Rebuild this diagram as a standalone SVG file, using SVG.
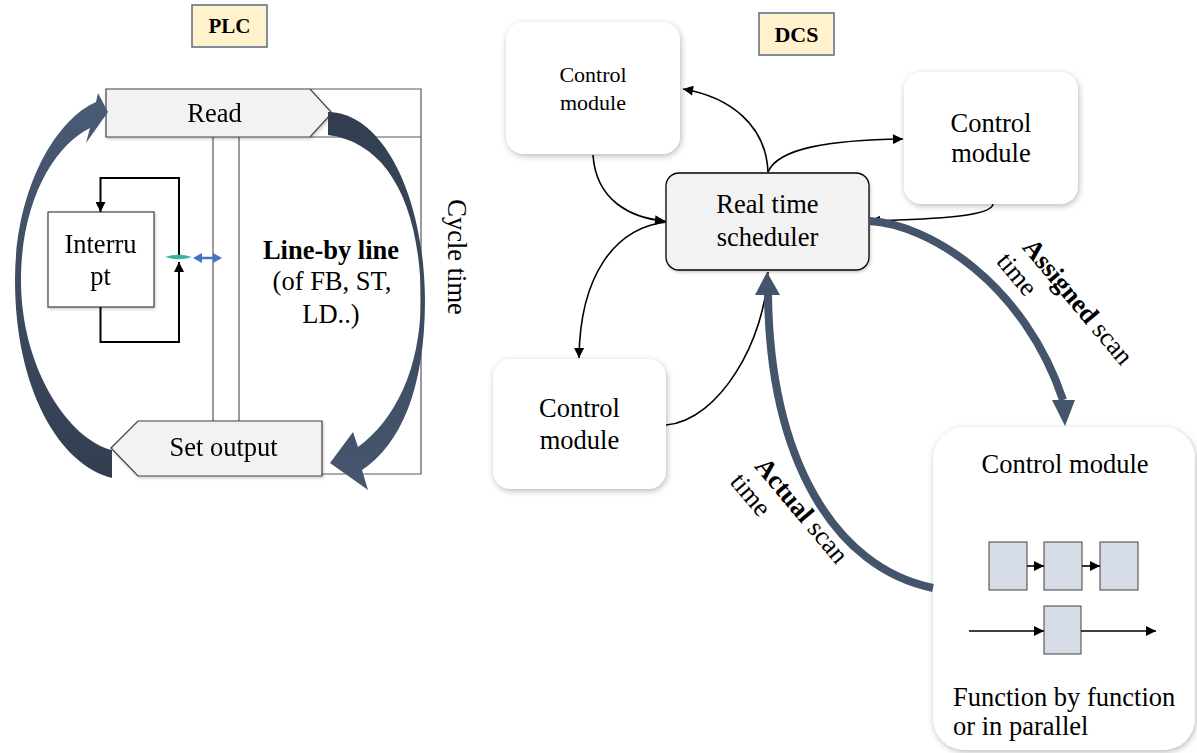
<svg xmlns="http://www.w3.org/2000/svg" width="1197" height="753" viewBox="0 0 1197 753">
<style>
text{font-family:"Liberation Serif","Times New Roman",serif;fill:#000}
.t{font-size:26.5px}
.s{font-size:22px}
.b{font-weight:bold}
.thin{fill:none;stroke:#000;stroke-width:1.6}
.frame{fill:none;stroke:#595959;stroke-width:1.2}
.thick{fill:none;stroke:#44546a;stroke-width:8}
.mod{fill:#fff;stroke:none}
.fb{fill:#d6dce5;stroke:#404040;stroke-width:1}
</style>
<defs>
<filter id="sh" x="-20%" y="-20%" width="140%" height="140%"><feDropShadow dx="1" dy="2" stdDeviation="3" flood-color="#000" flood-opacity="0.28"/></filter>
<filter id="sh2" x="-20%" y="-20%" width="140%" height="140%"><feDropShadow dx="1" dy="1.5" stdDeviation="1.5" flood-color="#000" flood-opacity="0.22"/></filter>
<marker id="ah" viewBox="0 0 10 10" refX="10" refY="5" markerWidth="12" markerHeight="10" markerUnits="userSpaceOnUse" orient="auto"><path d="M0,0 L10,5 L0,10 Z" fill="#000"/></marker>
<marker id="ah2" viewBox="0 0 10 10" refX="10" refY="5" markerWidth="11" markerHeight="10" markerUnits="userSpaceOnUse" orient="auto"><path d="M0,0 L10,5 L0,10 Z" fill="#000"/></marker>
<linearGradient id="gl" x1="0" y1="0" x2="0" y2="1"><stop offset="0" stop-color="#4a5b75"/><stop offset="1" stop-color="#323e50"/></linearGradient>
<linearGradient id="gr" x1="0" y1="0" x2="0" y2="1"><stop offset="0" stop-color="#323e50"/><stop offset="1" stop-color="#46566e"/></linearGradient>
</defs>

<!-- PLC side -->
<g id="plc-label">
<rect x="192" y="5" width="75" height="42" fill="#fff2cc" stroke="#5b6a80" stroke-width="1.5"/>
<text x="229.5" y="33" text-anchor="middle" class="b" font-size="21">PLC</text>
</g>
<g id="plc-frame">
<path class="frame" d="M310,89 H421 V474 H322 M310,137 H421 M213,137 V421 M239,137 V421"/>
</g>
<g id="read" filter="url(#sh2)">
<polygon points="106,89 310,89 332,113 310,137 106,137" fill="#f2f2f2" stroke="#404040" stroke-width="1.2"/>
<text x="214.5" y="122" text-anchor="middle" class="t">Read</text>
</g>
<g id="set-output" filter="url(#sh2)">
<polygon points="111,448 138,421 322,421 322,476 138,476" fill="#f2f2f2" stroke="#404040" stroke-width="1.2"/>
<text x="223.5" y="456" text-anchor="middle" class="t">Set output</text>
</g>
<g id="interrupt" filter="url(#sh2)">
<rect x="48" y="212" width="106" height="95" fill="#fff" stroke="#404040" stroke-width="1.2"/>
<text x="100.5" y="253" text-anchor="middle" class="t">Interru</text>
<text x="100.5" y="285" text-anchor="middle" class="t">pt</text>
</g>
<g id="line-by-line">
<text x="331" y="259" text-anchor="middle" class="t b">Line-by line</text>
<text x="332" y="290" text-anchor="middle" class="t">(of FB, ST,</text>
<text x="331" y="323" text-anchor="middle" class="t">LD..)</text>
</g>
<g id="cycle-time">
<text transform="translate(448,257) rotate(90)" text-anchor="middle" class="t">Cycle time</text>
</g>
<g id="plc-connectors">
<path d="M100.5,307 V342 H179 V262" fill="none" stroke="#000" stroke-width="2" marker-end="url(#ah2)"/>
<path d="M179,257 V178 H100.5 V212" fill="none" stroke="#000" stroke-width="2" marker-end="url(#ah2)"/>
<path d="M165,257 Q178.5,252.5 192,257 Q178.5,261.5 165,257 Z" fill="#3bb3a3"/>
<line x1="199" y1="258" x2="216" y2="258" stroke="#4472c4" stroke-width="2.5"/>
<polygon points="193,258 202,253 202,263" fill="#4472c4"/>
<polygon points="222,258 213,253 213,263" fill="#4472c4"/>
<path d="M112,478 C60,465 15,390 15,280 C15,190 55,120 96,102 L98,93 L108,112 L86,143 L90,128 C55,145 21,200 21,280 C21,370 70,440 112,450 Z" fill="url(#gl)"/>
<path d="M328,112 C380,112 424,190 425,300 C425,390 400,445 362,470 L368,490 L330,463 L353,432 L358,447 C395,420 420,370 421,300 C420,200 385,142 328,135 Z" fill="url(#gr)"/>
</g>

<!-- DCS side -->
<g id="dcs-label">
<rect x="759" y="13" width="75" height="42" fill="#fff2cc" stroke="#5b6a80" stroke-width="1.5"/>
<text x="796.5" y="42" text-anchor="middle" class="b" font-size="22">DCS</text>
</g>
<g id="cm-topleft">
<rect x="506" y="22" width="174" height="132" rx="18" class="mod" filter="url(#sh)"/>
<text x="593" y="82" text-anchor="middle" class="s">Control</text>
<text x="593" y="110" text-anchor="middle" class="s">module</text>
</g>
<g id="cm-topright">
<rect x="904" y="72" width="174" height="132" rx="18" class="mod" filter="url(#sh)"/>
<text x="991" y="132" text-anchor="middle" class="t">Control</text>
<text x="991" y="162" text-anchor="middle" class="t">module</text>
</g>
<g id="cm-bottomleft">
<rect x="493" y="359" width="173" height="130" rx="18" class="mod" filter="url(#sh)"/>
<text x="579.5" y="417" text-anchor="middle" class="t">Control</text>
<text x="579.5" y="449" text-anchor="middle" class="t">module</text>
</g>
<g id="scheduler">
<rect x="666" y="173" width="203" height="97" rx="13" fill="#f2f2f2" stroke="#000" stroke-width="1.3" filter="url(#sh2)"/>
<text x="767.5" y="213" text-anchor="middle" class="t">Real time</text>
<text x="767.5" y="246" text-anchor="middle" class="t">scheduler</text>
</g>
<g id="cm-big">
<rect x="933" y="427" width="262" height="323" rx="32" class="mod" filter="url(#sh)"/>
<text x="1065" y="473" text-anchor="middle" class="t">Control module</text>
<rect x="989" y="542" width="38" height="48" class="fb"/>
<rect x="1044" y="542" width="38" height="48" class="fb"/>
<rect x="1100" y="542" width="38" height="48" class="fb"/>
<rect x="1044" y="606" width="37" height="48" class="fb"/>
<path class="thin" d="M1027,566 H1044" marker-end="url(#ah2)"/>
<path class="thin" d="M1082,566 H1100" marker-end="url(#ah2)"/>
<path class="thin" d="M969,631 H1044" marker-end="url(#ah2)"/>
<path class="thin" d="M1081,631 H1156" marker-end="url(#ah2)"/>
<text x="953" y="706" class="t">Function by function</text>
<text x="953" y="735" class="t">or in parallel</text>
</g>
<g id="dcs-connectors">
<path class="thin" d="M768,172 C766,125 730,97 683,89" marker-end="url(#ah)"/>
<path class="thin" d="M768,172 C778,148 830,140 903,139" marker-end="url(#ah)"/>
<path class="thin" d="M593,155 C596,200 630,218 665,221" marker-end="url(#ah)"/>
<path class="thin" d="M666,222 C615,228 580,275 579,358" marker-end="url(#ah)"/>
<path class="thin" d="M666,425 C720,420 765,340 768,272"/>
<path class="thin" d="M993,204 C992,216 940,219 870,221" marker-end="url(#ah)"/>
<path class="thick" d="M869,221 C930,224 1025,285 1063,400"/>
<polygon points="1052,400 1075,400 1065,426" fill="#44546a"/>
<path class="thick" d="M933,588 C835,568 770,460 768,294"/>
<polygon points="755,295 780,295 767,272" fill="#44546a"/>
<text transform="translate(1071.6,307.5) rotate(50)" class="t"><tspan x="-78" y="0"><tspan class="b">Assigned</tspan> scan</tspan><tspan x="-84" y="29">time</tspan></text>
<text transform="translate(795.6,516.5) rotate(50)" class="t"><tspan x="-65" y="0"><tspan class="b">Actual</tspan> scan</tspan><tspan x="-69" y="29">time</tspan></text>
</g>
</svg>
